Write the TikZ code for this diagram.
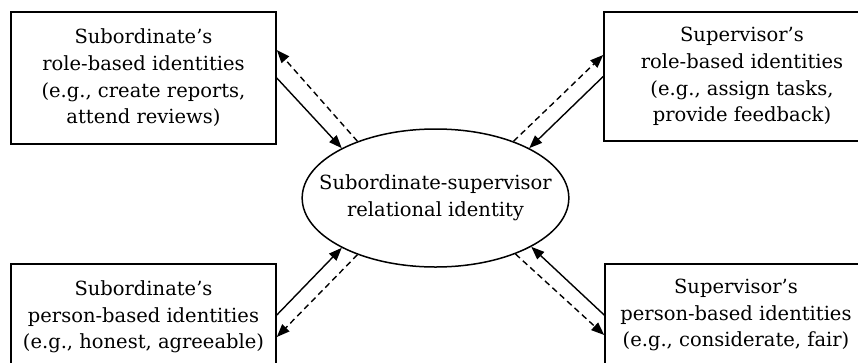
\documentclass[tikz,border=0pt]{standalone}
\usepackage{fontspec}
\setmainfont{DejaVu Serif}
\usetikzlibrary{shapes.geometric,arrows.meta}
\begin{document}
\begin{tikzpicture}[x=1pt,y=-1pt,
  txt/.style={align=center,font=\fontsize{19.5}{26.7}\selectfont},
  box/.style={txt,draw,line width=1.6pt,rectangle,inner sep=0pt},
  ell/.style={txt,draw,line width=1.5pt,ellipse,inner xsep=-22pt,inner ysep=0pt,minimum width=265pt,minimum height=138pt},
  sol/.style={line width=1.4pt,-{Triangle[length=13pt,width=10pt]}},
  das/.style={sol,dash pattern=on 6pt off 4pt}]
\useasboundingbox (0,0) rectangle (858,362);
\clip (0,0) rectangle (858,362);
\node[box,minimum width=265pt,minimum height=132pt] (tl) at (143.5,78) {Subordinate's\\role-based identities\\(e.g., create reports,\\attend reviews)};
\node[box,minimum width=276pt,minimum height=129pt] (tr) at (742,76.5) {Supervisor's\\role-based identities\\(e.g., assign tasks,\\provide feedback)};
\node[box,minimum width=265pt,minimum height=106pt] (bl) at (143.5,317) {Subordinate's\\person-based identities\\(e.g., honest, agreeable)};
\node[box,minimum width=262pt,minimum height=102pt] (br) at (736,315) {Supervisor's\\person-based identities\\(e.g., considerate, fair)};
\node[ell] (e) at (435.5,198) {Subordinate-supervisor\\relational identity};
% top left
\draw[sol] (tl.east) -- (e.152);
\draw[das] (e.144) -- ([yshift=28pt]tl.east);
% top right
\draw[das] (e.36) -- ([yshift=21.5pt]tr.west);
\draw[sol] (tr.west) -- (e.28);
% bottom left
\draw[sol] ([yshift=2pt]bl.east) -- (e.208);
\draw[das] (e.216) -- ([yshift=-20pt]bl.east);
% bottom right
\draw[sol] (br.west) -- (e.333);
\draw[das] (e.325) -- ([yshift=-20pt]br.west);
\end{tikzpicture}
\end{document}
